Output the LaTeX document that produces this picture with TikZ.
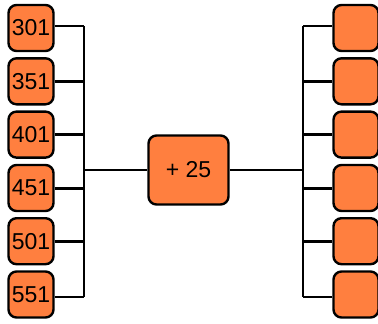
\documentclass[tikz,border=0pt]{standalone}
\usepackage{fontspec}
\setmainfont{Liberation Sans}
\usepackage{tikz}
\definecolor{boxorange}{RGB}{255,127,63}

\begin{document}
\begin{tikzpicture}[x=1pt, y=-1pt,
  box/.style={draw, line width=2.4pt, rounded corners=8pt, fill=boxorange,
    minimum width=45pt, minimum height=46pt, inner sep=0pt,
    font=\fontsize{23}{23}\selectfont},
  thin line/.style={line width=1.6pt},
  thick line/.style={line width=3pt}]
\useasboundingbox (0,0) rectangle (378,324);
% left column
\node[box] (l1) at (31,28) {301};
\node[box] (l2) at (31,81.3) {351};
\node[box] (l3) at (31,134.6) {401};
\node[box] (l4) at (31,188) {451};
\node[box] (l5) at (31,241.2) {501};
\node[box] (l6) at (31,294.5) {551};
% middle
\node[box, minimum width=80pt, minimum height=69pt] (sum) at (188.5,170) {+ 25};
% right column
\node[box] (r1) at (356,28) {};
\node[box] (r2) at (356,81.3) {};
\node[box] (r3) at (356,134.6) {};
\node[box] (r4) at (356,188) {};
\node[box] (r5) at (356,241.2) {};
\node[box] (r6) at (356,294.5) {};
% spines
\coordinate (ltop) at (84,26);
\coordinate (lbot) at (84,297);
\coordinate (rtop) at (303,26);
\coordinate (rbot) at (303,297);
\draw[thin line] (ltop) -- (lbot);
\draw[thin line] (rtop) -- (rbot);
\draw[thin line] (sum.west) -- (sum.west -| ltop);
\draw[thin line] (sum.east) -- (sum.east -| rtop);
% left branches
\draw[thin line] (l1.east |- ltop) -- (ltop);
\draw[thick line] (l2.east) -- (l2 -| ltop);
\draw[thick line] (l3.east) -- (l3 -| ltop);
\draw[thick line] (l4.east) -- (l4 -| ltop);
\draw[thick line] (l5.east) -- (l5 -| ltop);
\draw[thin line] (l6.east |- lbot) -- (lbot);
% right branches
\draw[thin line] (r1.west |- rtop) -- (rtop);
\draw[thick line] (r2.west) -- (r2 -| rtop);
\draw[thick line] (r3.west) -- (r3 -| rtop);
\draw[thick line] (r4.west) -- (r4 -| rtop);
\draw[thick line] (r5.west) -- (r5 -| rtop);
\draw[thin line] (r6.west |- rbot) -- (rbot);
\end{tikzpicture}
\end{document}
